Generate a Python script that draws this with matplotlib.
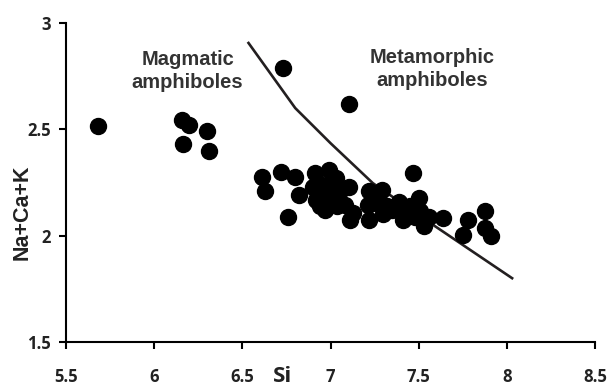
import matplotlib
matplotlib.use("Agg")
import matplotlib.pyplot as plt

# Data (Si vs Na+Ca+K)
si = [5.68, 6.16, 6.20, 6.30, 6.165, 6.31,
      6.73, 7.107, 6.61, 6.63, 6.72, 6.80, 6.82, 6.76, 7.47, 7.107,
      6.91, 6.99, 7.03, 6.90, 6.98, 6.92, 6.997, 6.97, 7.035, 7.08, 7.13, 7.11,
      6.93, 6.95, 7.00, 6.94, 7.05,
      7.22, 7.29, 7.21, 7.26, 7.32, 7.22, 7.27, 7.35, 7.30,
      7.39, 7.50, 7.43, 7.41, 7.51, 7.56, 7.53, 7.64, 7.45, 7.48,
      7.78, 7.75, 7.875, 7.875, 7.91]
nack = [2.516, 2.545, 2.52, 2.49, 2.43, 2.396,
        2.787, 2.62, 2.278, 2.208, 2.30, 2.278, 2.19, 2.09, 2.297, 2.23,
        2.294, 2.31, 2.27, 2.23, 2.24, 2.17, 2.185, 2.12, 2.14, 2.146, 2.107, 2.075,
        2.25, 2.20, 2.21, 2.14, 2.20,
        2.21, 2.216, 2.146, 2.154, 2.14, 2.075, 2.18, 2.12, 2.10,
        2.16, 2.177, 2.107, 2.075, 2.114, 2.09, 2.044, 2.083, 2.14, 2.09,
        2.075, 2.005, 2.114, 2.036, 1.997]

# Boundary line
line_si = [6.535, 6.80, 7.0, 7.24, 7.565, 8.03]
line_nack = [2.906, 2.60, 2.435, 2.247, 2.06, 1.80]

xticks = [5.5, 6, 6.5, 7, 7.5, 8, 8.5]
xtick_labels = ["5.5", "6", "6.5", "7", "7.5", "8", "8.5"]
yticks = [1.5, 2, 2.5, 3]
ytick_labels = ["1.5", "2", "2.5", "3"]

fig = plt.figure(figsize=(6.09, 3.88), dpi=100)
ax = fig.add_axes([66/609, 1-342/388, (595-66)/609, (342-23)/388])

ax.plot(line_si, line_nack, color="#231f20", lw=1.9, zorder=2)
ax.plot(si, nack, linestyle="none", marker="o", ms=11.5, color="black", zorder=3)

ax.set_xlim(5.5, 8.5)
ax.set_ylim(1.5, 3)
ax.set_xticks(xticks)
ax.set_xticklabels(xtick_labels)
ax.set_yticks(yticks)
ax.set_yticklabels(ytick_labels)

for s in ["top", "right"]:
    ax.spines[s].set_visible(False)
for s in ["left", "bottom"]:
    ax.spines[s].set_linewidth(1.5)
    ax.spines[s].set_color("black")

ax.tick_params(axis="both", direction="out", length=5, width=1.5, colors="black")
ax.tick_params(axis="x", pad=14)
ax.tick_params(axis="y", pad=6)
for lab in ax.get_xticklabels() + ax.get_yticklabels():
    lab.set_fontfamily("Open Sans")
    lab.set_fontweight("bold")
    lab.set_fontsize(12)
    lab.set_color("#222222")

fig.text(22/609, 1-212/388, "Na+Ca+K", rotation=90, ha="center", va="center",
         fontsize=15.5, fontweight="bold", family="Liberation Sans", color="#222222")
fig.text(283/609, 1-376/388, "Si", ha="center", va="center",
         fontsize=16, fontweight="bold", family="Open Sans", color="#222222")

ax.text(6.19, 2.775, "Magmatic\namphiboles", ha="center", va="center",
        fontsize=14.5, fontweight="bold", family="Liberation Sans", color="#333333",
        linespacing=1.25)
ax.text(7.574, 2.785, "Metamorphic\namphiboles", ha="center", va="center",
        fontsize=14.5, fontweight="bold", family="Liberation Sans", color="#333333",
        linespacing=1.25)

fig.savefig("out.png", dpi=100)
